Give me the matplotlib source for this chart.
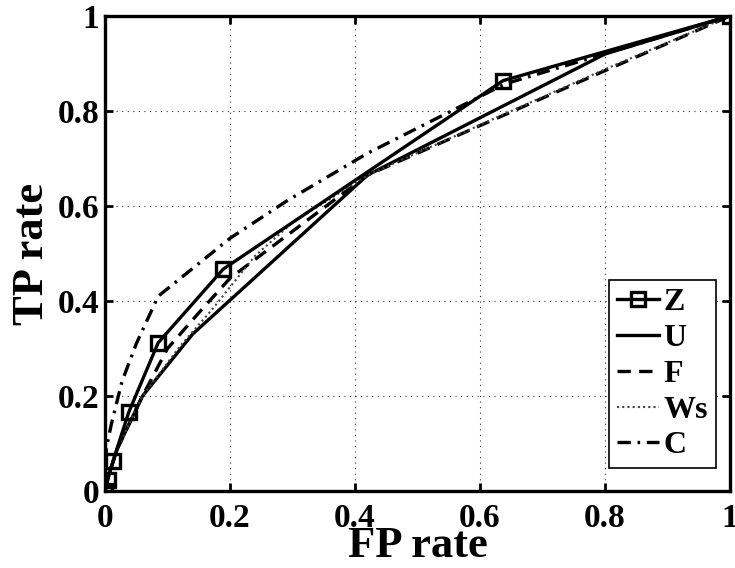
import matplotlib
matplotlib.use("Agg")
import matplotlib.pyplot as plt

plt.rcParams['font.family'] = ['Liberation Serif', 'DejaVu Serif']
plt.rcParams['font.weight'] = 'bold'

# ---- data ----
Z_x = [0, 0.004, 0.013, 0.038, 0.085, 0.189, 0.637, 1]
Z_y = [0, 0.023, 0.064, 0.166, 0.312, 0.467, 0.864, 1]

U_x = [0, 0.005, 0.02, 0.06, 0.14, 0.42, 0.80, 1]
U_y = [0, 0.03, 0.09, 0.20, 0.33, 0.665, 0.92, 1]

F_x = [0, 0.005, 0.02, 0.06, 0.10, 0.15, 0.20, 0.36, 0.42, 0.80, 1]
F_y = [0, 0.03, 0.09, 0.20, 0.30, 0.375, 0.448, 0.606, 0.665, 0.885, 1]

Ws_x = [0, 0.005, 0.02, 0.06, 0.12, 0.17, 0.24, 0.30, 0.42, 0.80, 1]
Ws_y = [0, 0.03, 0.09, 0.20, 0.305, 0.38, 0.495, 0.565, 0.665, 0.888, 1]

C_x = [0, 0.002, 0.01, 0.027, 0.05, 0.085, 0.2, 0.29, 0.42, 0.64, 1]
C_y = [0, 0.09, 0.14, 0.23, 0.31, 0.41, 0.532, 0.61, 0.711, 0.857, 1]

ticks = [0, 0.2, 0.4, 0.6, 0.8, 1]
tick_labels = ['0', '0.2', '0.4', '0.6', '0.8', '1']
labels = ['Z', 'U', 'F', 'Ws', 'C']

fig = plt.figure(figsize=(7.35, 5.68), dpi=100)
ax = fig.add_axes([0.1429, 0.1356, 0.8503, 0.8362])

lw = 2.4
ax.plot(Z_x, Z_y, color='black', lw=lw, marker='s', markersize=10,
        markerfacecolor='none', markeredgewidth=2.4, label=labels[0], zorder=5)
ax.plot(U_x, U_y, color='black', lw=lw, linestyle='-', label=labels[1], zorder=4)
ax.plot(F_x, F_y, color='black', lw=lw, linestyle=(0, (4, 2.5)), label=labels[2], zorder=4)
ax.plot(Ws_x, Ws_y, color='#444444', lw=1.5, linestyle=(0, (1, 1.5)), label=labels[3], zorder=4)
ax.plot(C_x, C_y, color='black', lw=lw, linestyle=(0, (4, 2, 0.8, 2)), label=labels[4], zorder=4)

ax.set_xlim(0, 1)
ax.set_ylim(0, 1)
ax.set_xticks(ticks)
ax.set_yticks(ticks)
ax.set_xticklabels(tick_labels)
ax.set_yticklabels(tick_labels)
ax.tick_params(direction='in', length=6, width=2, top=True, right=True,
               labelsize=24)
ax.tick_params(axis='x', pad=9)
ax.tick_params(axis='y', pad=4)
for lab in ax.get_xticklabels() + ax.get_yticklabels():
    lab.set_fontweight('bold')
for s in ax.spines.values():
    s.set_linewidth(2.4)

ax.grid(True, color='black', linestyle=(0, (1, 4)), linewidth=0.8, alpha=0.8)

ax.set_xlabel('FP rate', fontsize=32, fontweight='bold', labelpad=-6)
ax.set_ylabel('TP rate', fontsize=32, fontweight='bold', labelpad=4)

leg = ax.legend(loc='upper right', bbox_to_anchor=(0.9776, 0.444),
                borderaxespad=0, fontsize=23, handlelength=1.3,
                handletextpad=0.15, labelspacing=0.2, borderpad=0.25,
                fancybox=False, framealpha=1, edgecolor='black')
leg.get_frame().set_linewidth(1.2)
for t in leg.get_texts():
    t.set_fontweight('bold')

fig.savefig('out.png', dpi=100)
